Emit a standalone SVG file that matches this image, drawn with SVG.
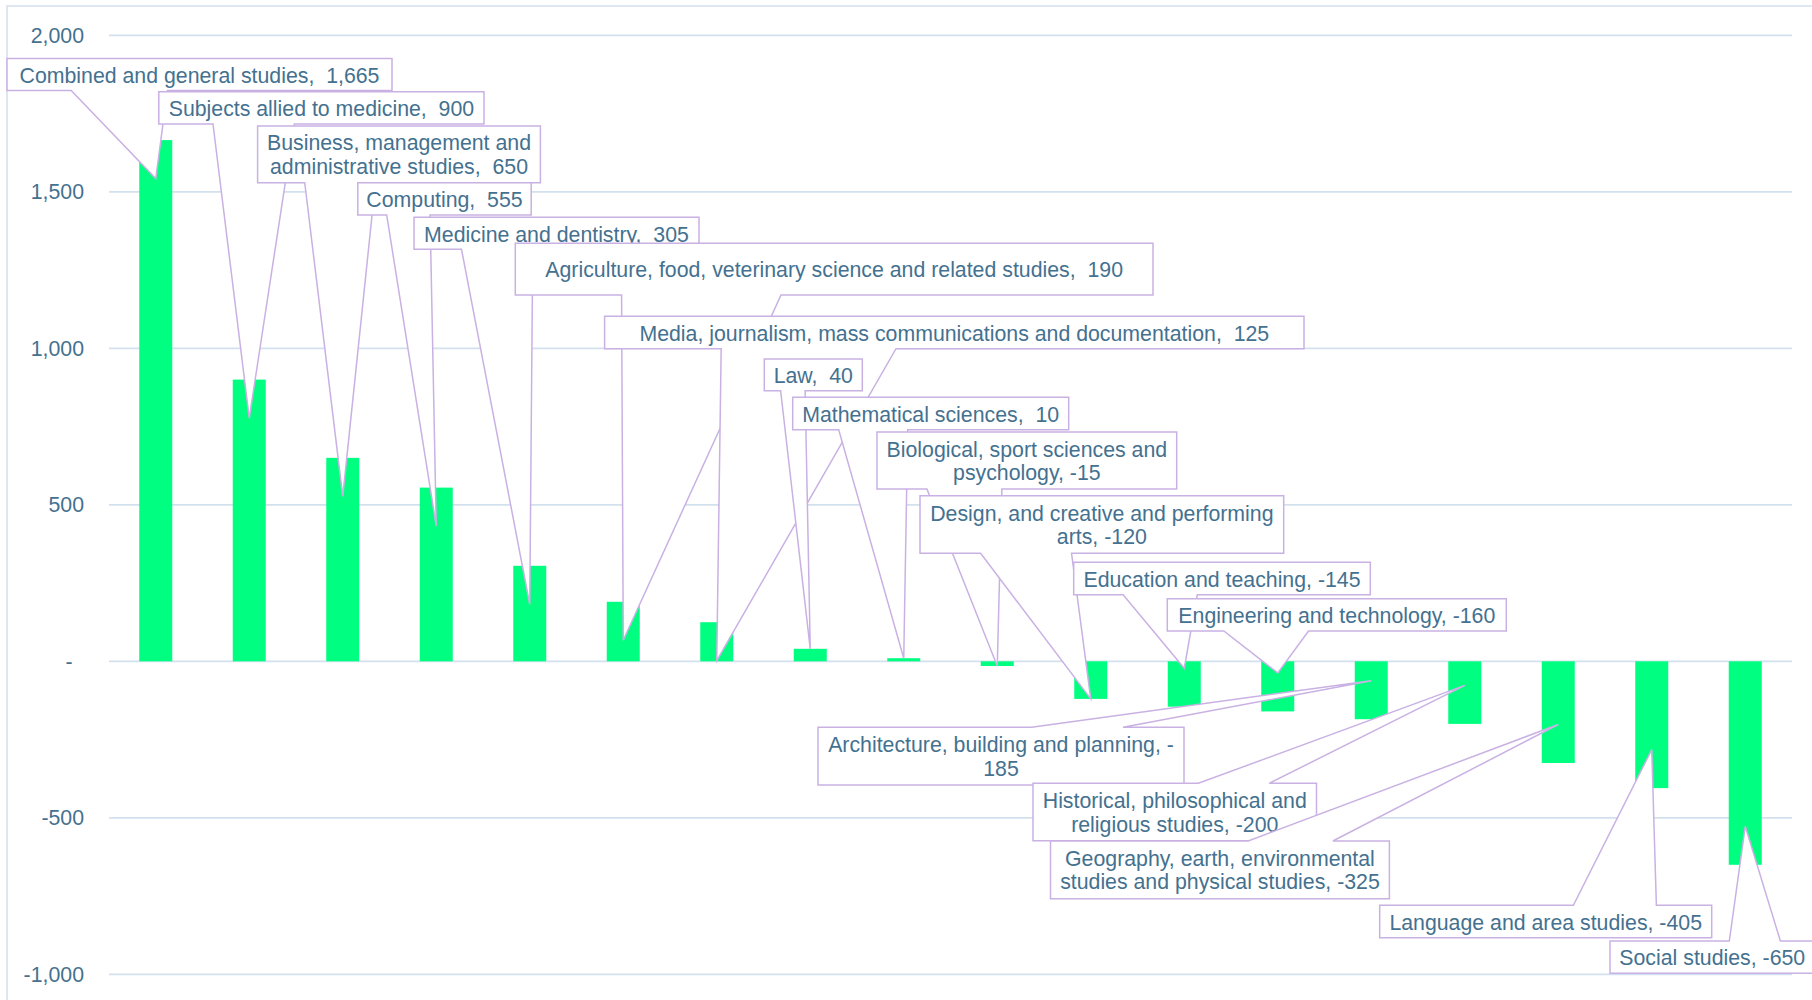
<svg xmlns="http://www.w3.org/2000/svg" width="1812" height="1000" viewBox="0 0 1812 1000">
<style>
.t{font-family:"Liberation Sans",Arial,sans-serif;font-size:21.3px;fill:#44718f;text-anchor:middle}
.ax{font-family:"Liberation Sans",Arial,sans-serif;font-size:21.3px;fill:#44718f;text-anchor:end}
.grid{stroke:#d3e0ed;stroke-width:1.8;fill:none}
.bar{fill:#00ff80}
.co{fill:#ffffff;stroke:#c9b1e3;stroke-width:1.5;stroke-linejoin:miter}
</style>
<rect x="0" y="0" width="1812" height="1000" fill="#ffffff"/>
<g id="frame">
<path d="M7,1000 V6 H1812" fill="none" stroke="#d3e0ed" stroke-width="1.5"/>
</g>
<g id="axis">
<line class="grid" x1="109" y1="35.3" x2="1792" y2="35.3"/>
<line class="grid" x1="109" y1="191.8" x2="1792" y2="191.8"/>
<line class="grid" x1="109" y1="348.3" x2="1792" y2="348.3"/>
<line class="grid" x1="109" y1="504.8" x2="1792" y2="504.8"/>
<line class="grid" x1="109" y1="661.3" x2="1792" y2="661.3"/>
<line class="grid" x1="109" y1="817.8" x2="1792" y2="817.8"/>
<line class="grid" x1="109" y1="974.3" x2="1792" y2="974.3"/>
<text class="ax" x="84" y="42.8">2,000</text>
<text class="ax" x="84" y="199.3">1,500</text>
<text class="ax" x="84" y="355.8">1,000</text>
<text class="ax" x="84" y="512.3">500</text>
<text class="t" x="69" y="668.8">-</text>
<text class="ax" x="84" y="825.3">-500</text>
<text class="ax" x="84" y="981.8">-1,000</text>
</g>
<g id="bars">
<rect class="bar" x="139.25" y="140.1" width="33" height="521.2"/>
<rect class="bar" x="232.75" y="379.6" width="33" height="281.7"/>
<rect class="bar" x="326.25" y="457.85" width="33" height="203.45"/>
<rect class="bar" x="419.75" y="487.6" width="33" height="173.7"/>
<rect class="bar" x="513.25" y="565.8" width="33" height="95.5"/>
<rect class="bar" x="606.75" y="601.8" width="33" height="59.5"/>
<rect class="bar" x="700.25" y="622.2" width="33" height="39.1"/>
<rect class="bar" x="793.75" y="648.8" width="33" height="12.5"/>
<rect class="bar" x="887.25" y="658.2" width="33" height="3.1"/>
<rect class="bar" x="980.75" y="661.3" width="33" height="4.7"/>
<rect class="bar" x="1074.25" y="661.3" width="33" height="37.6"/>
<rect class="bar" x="1167.75" y="661.3" width="33" height="45.4"/>
<rect class="bar" x="1261.25" y="661.3" width="33" height="50.1"/>
<rect class="bar" x="1354.75" y="661.3" width="33" height="57.9"/>
<rect class="bar" x="1448.25" y="661.3" width="33" height="62.6"/>
<rect class="bar" x="1541.75" y="661.3" width="33" height="101.7"/>
<rect class="bar" x="1635.25" y="661.3" width="33" height="126.8"/>
<rect class="bar" x="1728.75" y="661.3" width="33" height="203.5"/>
</g>
<g id="connectors">
</g>
<g id="label-combined">
<path class="co" d="M7,58.5 H392 V90.5 H167.42 L155.75,178.6 L71.17,90.5 H7 Z"/>
<text class="t" x="199.5" y="82.7">Combined and general studies,&#160; 1,665</text>
</g>
<g id="label-subjects">
<path class="co" d="M158.8,91.7 H484 V124 H294.3 L249.25,418.1 L213,124 H158.8 Z"/>
<text class="t" x="321.4" y="116.05">Subjects allied to medicine,&#160; 900</text>
</g>
<g id="label-business">
<path class="co" d="M257.6,126 H540.4 V182.7 H375.43 L342.75,496.3 L304.73,182.7 H257.6 Z"/>
<text class="t" x="399" y="150.45">Business, management and</text>
<text class="t" x="399" y="173.95">administrative studies,&#160; 650</text>
</g>
<g id="label-computing">
<path class="co" d="M357.8,182.7 H531.2 V215 H430.05 L436.25,526.1 L386.7,215 H357.8 Z"/>
<text class="t" x="444.5" y="207.05">Computing,&#160; 555</text>
</g>
<g id="label-medicine">
<path class="co" d="M414,217.3 H699 V249.3 H532.75 L529.75,604.3 L461.5,249.3 H414 Z"/>
<text class="t" x="556.5" y="241.5">Medicine and dentistry,&#160; 305</text>
</g>
<g id="label-agriculture">
<path class="co" d="M515.3,243.3 H1153 V295 H781.01 L623.25,640.3 L621.58,295 H515.3 Z"/>
<text class="t" x="834.15" y="277.35">Agriculture, food, veterinary science and related studies,&#160; 190</text>
</g>
<g id="label-media">
<path class="co" d="M604.6,316.3 H1304 V348.7 H896.02 L716.75,660.7 L721.17,348.7 H604.6 Z"/>
<text class="t" x="954.3" y="340.7">Media, journalism, mass communications and documentation,&#160; 125</text>
</g>
<g id="label-law">
<path class="co" d="M764.3,359 H862.3 V390.7 H805.13 L810.25,648.8 L780.63,390.7 H764.3 Z"/>
<text class="t" x="813.3" y="383.05">Law,&#160; 40</text>
</g>
<g id="label-math">
<path class="co" d="M792.7,397.3 H1068.7 V429.7 H907.7 L903.75,658.2 L838.7,429.7 H792.7 Z"/>
<text class="t" x="930.7" y="421.7">Mathematical sciences,&#160; 10</text>
</g>
<g id="label-bio">
<path class="co" d="M877,432 H1176.7 V489 H1001.88 L997.25,666 L926.95,489 H877 Z"/>
<text class="t" x="1026.85" y="456.6">Biological, sport sciences and</text>
<text class="t" x="1026.85" y="480.1">psychology, -15</text>
</g>
<g id="label-design">
<path class="co" d="M920,495.7 H1283.7 V553.3 H1071.54 L1090.75,698.9 L980.62,553.3 H920 Z"/>
<text class="t" x="1101.85" y="520.6">Design, and creative and performing</text>
<text class="t" x="1101.85" y="544.1">arts, -120</text>
</g>
<g id="label-education">
<path class="co" d="M1073.7,562.3 H1370.3 V594.7 H1197.28 L1184.25,668.2 L1123.13,594.7 H1073.7 Z"/>
<text class="t" x="1222" y="586.7">Education and teaching, -145</text>
</g>
<g id="label-engineering">
<path class="co" d="M1167.3,598.7 H1506.3 V631 H1308.55 L1277.75,672.9 L1223.8,631 H1167.3 Z"/>
<text class="t" x="1336.8" y="623.05">Engineering and technology, -160</text>
</g>
<g id="label-architecture">
<path class="co" d="M818,727.3 H1031.5 L1371.25,680.7 L1123,727.3 H1184 V785 H818 Z"/>
<text class="t" x="1001" y="752.25">Architecture, building and planning, -</text>
<text class="t" x="1001" y="775.75">185</text>
</g>
<g id="label-historical">
<path class="co" d="M1033,783.3 H1198.4 L1464.75,685.4 L1269.25,783.3 H1316.5 V840.7 H1033 Z"/>
<text class="t" x="1174.75" y="808.1">Historical, philosophical and</text>
<text class="t" x="1174.75" y="831.6">religious studies, -200</text>
</g>
<g id="label-geography">
<path class="co" d="M1050.5,841 H1248.2 L1558.25,724.5 L1332.9,841 H1389.4 V898.7 H1050.5 Z"/>
<text class="t" x="1219.95" y="865.95">Geography, earth, environmental</text>
<text class="t" x="1219.95" y="889.45">studies and physical studies, -325</text>
</g>
<g id="label-language">
<path class="co" d="M1379.7,905.3 H1573.37 L1651.75,749.6 L1656.37,905.3 H1711.7 V937.7 H1379.7 Z"/>
<text class="t" x="1545.7" y="929.7">Language and area studies, -405</text>
</g>
<g id="label-social">
<path class="co" d="M1610,941 H1729.3 L1745.25,826.3 L1780.4,941 H1814.5 V973.3 H1610 Z"/>
<text class="t" x="1712.25" y="965.35">Social studies, -650</text>
</g>
</svg>
